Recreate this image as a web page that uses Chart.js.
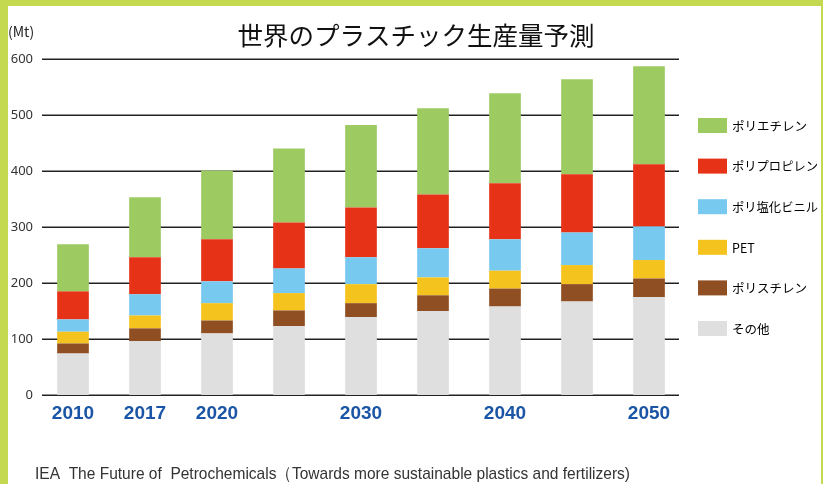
<!DOCTYPE html>
<html>
<head>
<meta charset="utf-8">
<script src="https://cdn.jsdelivr.net/npm/chart.js@4"></script>
<style>
  html, body { margin: 0; padding: 0; background: #fff; }
  #wrap { position: relative; width: 823px; height: 484px; }
  #frame {
    position: absolute; left: 0; top: 0; width: 823px; height: 484px;
    box-sizing: border-box; pointer-events: none;
    border-left: 8px solid #c4d94f; border-top: 6px solid #c4d94f; border-right: 2px solid #c4d94f;
  }
</style>
</head>
<body>
<div id="wrap">
  <canvas id="myChart" width="823" height="484"></canvas>
  <div id="frame"></div>
</div>
<script>
// years on the x axis (unlabelled ones are left blank)
var years = ['2010', '2017', '2020', '', '2030', '', '2040', '', '2050'];
var yTicks = [0, 100, 200, 300, 400, 500, 600];

// production by resin, Mt (stacked bottom to top)
var other        = [74, 96, 110, 123, 139, 150, 158, 167, 175];
var polystyrene  = [18, 23, 23, 28, 25, 28, 32, 31, 33];
var pet          = [21, 23, 31, 31, 34, 32, 32, 34, 33];
var pvc          = [22, 38, 39, 44, 48, 52, 56, 58, 60];
var polypropylene = [50, 66, 75, 82, 89, 96, 100, 104, 111];
var polyethylene = [84, 107, 123, 132, 147, 154, 161, 170, 175];

var seriesNames = ['その他', 'ポリスチレン', 'PET', 'ポリ塩化ビニル', 'ポリプロピレン', 'ポリエチレン'];
var seriesColors = ['#dfdfdf', '#8f4f23', '#f4c31e', '#77c9ef', '#e63318', '#9dcb62'];
var seriesData = [other, polystyrene, pet, pvc, polypropylene, polyethylene];

var jpFont = '"Noto Sans CJK JP", "Noto Sans", sans-serif';

// horizontal rules behind the bars
var gridLines = {
  id: 'gridLines',
  beforeDatasetsDraw: function(chart) {
    var ctx = chart.ctx, area = chart.chartArea, y = chart.scales.y;
    ctx.save();
    ctx.strokeStyle = '#222';
    ctx.lineWidth = 1.5;
    yTicks.forEach(function(v) {
      var py = Math.round(y.getPixelForValue(v)) + 0.25;
      ctx.beginPath();
      ctx.moveTo(area.left + 5, py);
      ctx.lineTo(area.right - 6, py);
      ctx.stroke();
    });
    ctx.restore();
  }
};

// title, unit, legend and source note
var overlay = {
  id: 'overlay',
  afterDraw: function(chart) {
    var ctx = chart.ctx;
    ctx.save();
    ctx.textBaseline = 'middle';

    ctx.fillStyle = '#111';
    ctx.textAlign = 'center';
    ctx.font = '25.5px ' + jpFont;
    ctx.fillText('世界のプラスチック生産量予測', 416, 35);

    ctx.textAlign = 'left';
    ctx.fillStyle = '#222';
    ctx.font = '14px ' + jpFont;
    ctx.fillText('(Mt)', 8, 32);

    // legend, top entry is the top of the stack
    ctx.font = '12.5px ' + jpFont;
    var ds = chart.data.datasets;
    for (var k = 0; k < ds.length; k++) {
      var d = ds[ds.length - 1 - k];
      var top = 118 + k * 40.6;
      ctx.fillStyle = d.backgroundColor;
      ctx.fillRect(698, top, 29, 15);
      ctx.fillStyle = '#000';
      ctx.fillText(d.label, 732, top + 8, 86);
    }

    ctx.fillStyle = '#333';
    ctx.font = '17px "Liberation Sans", sans-serif';
    ctx.fillText('IEA  The Future of  Petrochemicals（Towards more sustainable plastics and fertilizers)', 35, 474, 595);
    ctx.restore();
  }
};

var ctx = document.getElementById('myChart');
var config = {
  type: 'bar',
  data: {
    labels: years,
    datasets: seriesNames.map(function(name, i) {
      return {
        label: name,
        data: seriesData[i],
        backgroundColor: seriesColors[i],
        borderWidth: 0,
        barPercentage: 0.44,
        categoryPercentage: 1
      };
    })
  },
  options: {
    responsive: false,
    animation: false,
    layout: { padding: { left: 8, right: 138, top: 59, bottom: 49 } },
    plugins: {
      legend: { display: false },
      title: { display: false },
      tooltip: { enabled: false }
    },
    scales: {
      x: {
        stacked: true,
        grid: { display: false, drawTicks: false },
        border: { display: false },
        ticks: {
          color: '#1b55a5',
          font: { family: '"Liberation Sans", sans-serif', size: 19, weight: 'bold' },
          padding: 7,
          maxRotation: 0,
          autoSkip: false
        },
        afterFit: function(s) { s.height = 40; }
      },
      y: {
        stacked: true,
        min: 0,
        max: 600,
        grid: { display: false, drawTicks: false },
        border: { display: false },
        ticks: {
          stepSize: 100,
          color: '#333',
          font: { family: '"Noto Sans", sans-serif', size: 13 },
          padding: 4
        },
        afterFit: function(s) { s.width = 29; }
      }
    }
  },
  plugins: [gridLines, overlay]
};
var myChart = new Chart(ctx, config);
</script>
</body>
</html>
